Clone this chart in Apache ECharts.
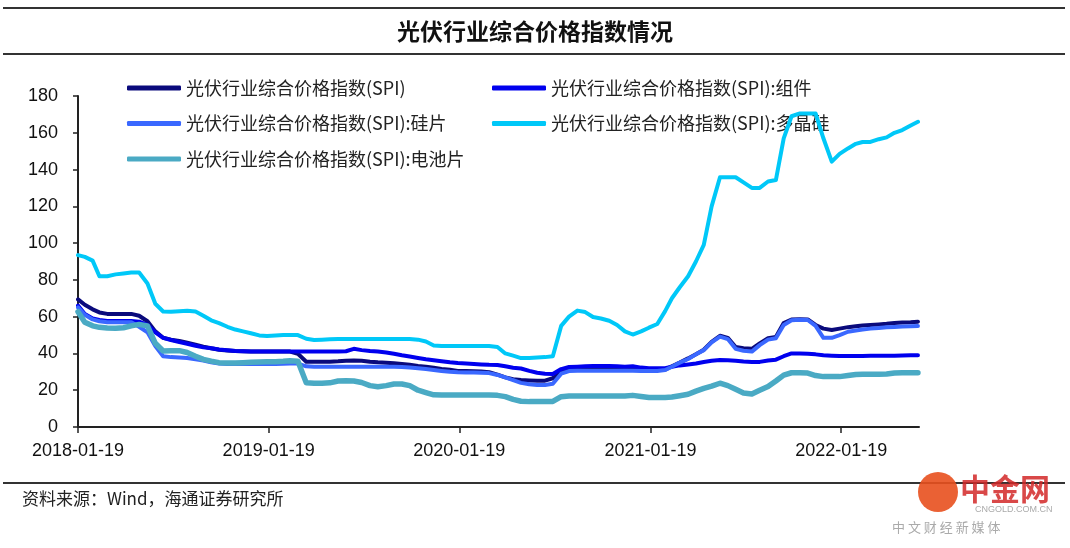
<!DOCTYPE html>
<html>
<head>
<meta charset="utf-8">
<script src="https://cdn.jsdelivr.net/npm/echarts@6/dist/echarts.min.js"></script>
<style>
html,body{margin:0;padding:0;background:#fff;}
#c{width:1070px;height:548px;}
</style>
</head>
<body>
<div id="c"></div>
<script>
const title = '光伏行业综合价格指数情况';
const source = '资料来源：Wind，海通证券研究所';
const seriesNames = ['光伏行业综合价格指数(SPI)', '光伏行业综合价格指数(SPI):组件', '光伏行业综合价格指数(SPI):硅片', '光伏行业综合价格指数(SPI):多晶硅', '光伏行业综合价格指数(SPI):电池片'];
const tickLabels = ['2018-01-19', '2019-01-19', '2020-01-19', '2021-01-19', '2022-01-19'];
const yTicks = [0, 20, 40, 60, 80, 100, 120, 140, 160, 180];

const dates = [
'2018-01-19','2018-02-01','2018-02-16','2018-03-01','2018-03-16','2018-04-01','2018-04-16','2018-05-01','2018-05-16','2018-06-01','2018-06-16','2018-07-01','2018-07-16','2018-08-01','2018-08-16','2018-09-01','2018-09-16','2018-10-01','2018-10-16','2018-11-01','2018-11-16','2018-12-01','2018-12-16',
'2019-01-01','2019-01-16','2019-02-01','2019-02-16','2019-03-01','2019-03-16','2019-04-01','2019-04-16','2019-05-01','2019-05-16','2019-06-01','2019-06-16','2019-07-01','2019-07-16','2019-08-01','2019-08-16','2019-09-01','2019-09-16','2019-10-01','2019-10-16','2019-11-01','2019-11-16','2019-12-01','2019-12-16',
'2020-01-01','2020-01-16','2020-02-01','2020-02-16','2020-03-01','2020-03-16','2020-04-01','2020-04-16','2020-05-01','2020-05-16','2020-06-01','2020-06-16','2020-07-01','2020-07-16','2020-08-01','2020-08-16','2020-09-01','2020-09-16','2020-10-01','2020-10-16','2020-11-01','2020-11-16','2020-12-01','2020-12-16',
'2021-01-01','2021-01-16','2021-02-01','2021-02-16','2021-03-01','2021-03-16','2021-04-01','2021-04-16','2021-05-01','2021-05-16','2021-06-01','2021-06-16','2021-07-01','2021-07-16','2021-08-01','2021-08-16','2021-09-01','2021-09-16','2021-10-01','2021-10-16','2021-11-01','2021-11-16','2021-12-01','2021-12-16',
'2022-01-01','2022-01-16','2022-02-01','2022-02-16','2022-03-01','2022-03-16','2022-04-01','2022-04-16','2022-05-01','2022-05-16','2022-06-01','2022-06-15'
];

const spi = [69.4,66.5,64,62.3,61.5,61.5,61.5,61.5,60.5,57.5,52,48.5,47.5,46.8,45.8,44.7,43.7,42.8,42,41.6,41.3,41.2,41,
41,41,41,41,41,39.8,35.5,35.5,35.5,35.5,35.7,36,36.2,36,35.5,35.2,35,34.7,34.3,33.8,33.2,32.8,32.2,31.6,
31.1,30.5,30.4,30.3,30.2,29.8,28.5,27,26,25.5,25.3,25.2,25.2,26.5,30,31.2,31.4,31.5,31.6,31.7,31.8,31.9,32,32.2,
31.8,31.2,31,31.2,33,35,37.3,39.6,42,46.3,49.6,48.5,43.5,42.8,42.5,45.5,48.3,49,56.5,58.4,58.6,58.5,55.5,53.5,
52.8,53.5,54.3,54.8,55.2,55.5,55.8,56.1,56.5,56.8,57,57.3];

const module = [66,61.5,59,58.2,57.6,57.6,57.6,57.6,57.3,55.5,51.5,48.5,47.3,46.2,45.3,44.2,43.3,42.8,42.2,41.7,41.3,41.2,41,
41,41,41,41,41,41,41,41,41,41,41,41.2,42.5,41.8,41.3,41,40.5,39.8,39,38.3,37.5,36.8,36.3,35.8,
35.2,34.8,34.5,34.2,34,33.8,33.7,33,32.2,31.8,30.5,29.5,29,28.8,31.5,32.6,32.8,33,33.2,33.2,33.2,33,32.8,33,
32.3,32,31.9,32,32.8,33.5,34,34.5,35.3,36,36.4,36.3,36,35.6,35.3,35.4,36.2,36.6,38.5,40,40,39.8,39.5,39,
38.8,38.6,38.6,38.6,38.6,38.7,38.7,38.8,38.8,38.9,39,39];

const wafer = [65,61,58.5,57.5,57,57,57,57,54.5,51.5,44,38.5,38,37.8,37.5,36.8,36.2,35.2,34.5,34.3,34.3,34.3,34.3,
34.3,34.3,34.3,34.4,34.5,34.5,33,32.8,32.7,32.7,32.7,32.8,32.8,32.8,32.8,32.8,32.8,32.8,32.6,32.3,32,31.5,31,30.5,
30,29.8,29.7,29.6,29.5,29.3,28.3,27,25.5,24,23.2,22.8,22.8,23.5,29,30.4,30.6,30.6,30.6,30.6,30.6,30.6,30.6,30.6,
30.5,30.5,30.5,31,32.8,35,37,39.5,41.8,46,49.2,47.8,42.5,41.5,41,44.5,47.5,48.3,55.5,58,58.3,58.2,55,48.5,
48.5,50,51.8,52.5,53,53.5,53.8,54.2,54.4,54.6,54.8,54.9];

const polysilicon = [93.5,92.5,90.5,82,82,83,83.5,84,84,78,67,62.8,62.7,63,63.2,62.8,60.5,58,56.5,54.5,53,52,51,
49.8,49.5,49.8,50,50,50,48,47.3,47.5,47.7,47.8,47.8,47.8,47.8,47.8,47.8,47.8,47.8,47.8,47.8,47.5,46.5,44.3,44,
44,44,44,44,44,44,43.5,40,38.8,37.5,37.5,37.8,38,38.5,55,60,63.3,62.5,59.8,59,57.8,55.5,52,50.3,
52,54,56,63,70,76,82,90,99,120,135.8,135.8,135.8,133,130,130,133.5,134.3,157,169,170.5,170.5,170.5,157,
144.3,148.5,151.5,154,155,155,156.5,157.5,160,161.5,164,166];

const cell = [62.7,57,55,54.2,53.8,53.7,54,55,55.8,55,45.5,41.3,41.5,41.5,40.5,38.5,36.8,35.8,35,34.8,34.8,35,35.2,
35.4,35.5,35.5,35.7,36,35.8,24,23.8,23.8,24,25,25.2,25,24.2,22.5,21.9,22.5,23.4,23.4,22.5,20,18.7,17.5,17.4,
17.4,17.4,17.4,17.4,17.4,17.4,17.2,16.5,15,14,13.8,13.8,13.8,13.9,16.5,16.9,16.9,16.9,16.9,16.9,16.9,16.9,16.9,17.2,
16.6,16.1,16.1,16.1,16.3,17,17.8,19.5,21,22.2,23.8,22.5,20.5,18.5,18,20,22,25,28.2,29.5,29.5,29.3,28,27.4,
27.4,27.4,28,28.6,28.7,28.7,28.7,28.8,29.4,29.5,29.5,29.5];

const DAY = 86400000;
const base = Date.parse(tickLabels[0] + 'T00:00:00Z');
const toDay = d => Math.round((Date.parse(d + 'T00:00:00Z') - base) / DAY);
const tickDays = tickLabels.map(toDay);
const xMax = toDay('2022-06-17');

function pairs(vals) { return dates.map((d, i) => [toDay(d), vals[i]]); }

const colors = ['#0a0a7c', '#0000ee', '#3a68ff', '#00c8f8', '#4aaac4'];
const widths = [4, 4, 4, 4, 5.5];
const allVals = [spi, module, wafer, polysilicon, cell];

const chart = echarts.init(document.getElementById('c'), null, {renderer: 'canvas'});

const series = seriesNames.map((n, i) => ({
  name: n, type: 'line', data: pairs(allVals[i]), showSymbol: false, symbol: 'none',
  lineStyle: {color: colors[i], width: widths[i], cap: 'round', join: 'round'},
  itemStyle: {color: colors[i]}, smooth: false, animation: false, z: 2 + i
}));

const legendText = {fontFamily: '"Noto Sans CJK SC", sans-serif', fontSize: 18, color: '#222', lineHeight: 20};

chart.setOption({
  animation: false,
  backgroundColor: '#fff',
  grid: {left: 78, right: 151, top: 96, bottom: 121, containLabel: false},
  legend: [
    {data: [seriesNames[0], seriesNames[2], seriesNames[4]], orient: 'vertical', left: 122, top: 73,
     itemWidth: 54, itemHeight: 5, itemGap: 15.5, icon: 'roundRect', textStyle: legendText, selectedMode: false},
    {data: [seriesNames[1], seriesNames[3]], orient: 'vertical', left: 487, top: 73,
     itemWidth: 54, itemHeight: 5, itemGap: 15.5, icon: 'roundRect', textStyle: legendText, selectedMode: false}
  ],
  xAxis: {
    type: 'value', min: 0, max: xMax,
    axisLine: {show: true, lineStyle: {color: '#222', width: 2}},
    axisTick: {show: true, customValues: tickDays, length: 6, lineStyle: {color: '#222', width: 1.5}},
    axisLabel: {customValues: tickDays, margin: 15, fontFamily: '"Liberation Sans", Arial, sans-serif', fontSize: 18, color: '#111',
      formatter: v => { const k = tickDays.indexOf(Math.round(v)); return k >= 0 ? tickLabels[k] : ''; }},
    splitLine: {show: false}
  },
  yAxis: {
    type: 'value', min: yTicks[0], max: yTicks[yTicks.length - 1], interval: 20,
    axisLine: {show: true, lineStyle: {color: '#222', width: 2}},
    axisTick: {show: true, length: 5, lineStyle: {color: '#222', width: 1.5}},
    axisLabel: {margin: 20, fontFamily: '"Liberation Sans", Arial, sans-serif', fontSize: 18, color: '#111'},
    splitLine: {show: false}
  },
  graphic: [
    {type: 'line', shape: {x1: 3, y1: 8, x2: 1065, y2: 8}, style: {stroke: '#333', lineWidth: 2}, silent: true},
    {type: 'line', shape: {x1: 3, y1: 54, x2: 1065, y2: 54}, style: {stroke: '#333', lineWidth: 2}, silent: true},
    {type: 'line', shape: {x1: 3, y1: 483, x2: 1065, y2: 483}, style: {stroke: '#333', lineWidth: 2}, silent: true},
    {type: 'text', left: 'center', top: 20, style: {text: title, font: 'bold 23px "Noto Sans CJK SC", sans-serif', fill: '#111'}},
    {type: 'text', left: 22, top: 490, style: {text: source, font: '17px "Noto Sans CJK SC", sans-serif', fill: '#222'}},
    {type: 'circle', shape: {cx: 938, cy: 492, r: 20}, style: {fill: '#e8501e', opacity: 0.9}},
    {type: 'text', left: 960, top: 474, style: {text: '中金网', font: 'bold 30px "Noto Sans CJK SC", sans-serif', fill: 'rgba(210,40,40,0.85)'}},
    {type: 'text', left: 975, top: 505, style: {text: 'CNGOLD.COM.CN', font: '9px "Liberation Sans", sans-serif', fill: '#aaa'}},
    {type: 'text', left: 892, top: 521, style: {text: '中 文 财 经 新 媒 体', font: '13px "Noto Sans CJK SC", sans-serif', fill: '#aaa'}}
  ],
  series: series
});
</script>
</body>
</html>
